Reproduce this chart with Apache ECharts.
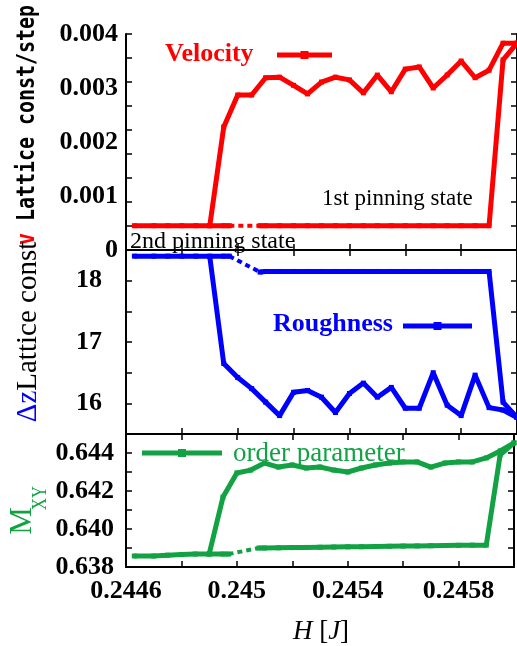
<!DOCTYPE html>
<html>
<head>
<meta charset="utf-8">
<script src="https://cdn.jsdelivr.net/npm/echarts@6/dist/echarts.min.js"></script>
<style>html,body{margin:0;padding:0;background:#fff;}#c{width:517px;height:646px;}</style>
</head>
<body>
<div id="c"></div>
<script>
// ---- data ----
// decreasing-H branch, shared H grid
const H_DOWN = [0.2449, 0.24495, 0.245, 0.24505, 0.2451, 0.24515, 0.2452, 0.24525, 0.2453, 0.24535, 0.2454, 0.24545, 0.2455, 0.24555, 0.2456, 0.24565, 0.2457, 0.24575, 0.2458, 0.24585, 0.2459, 0.24595, 0.246];
const VEL_DOWN = [0.00045, 0.00228, 0.00287, 0.00287, 0.00319, 0.0032, 0.00305, 0.00289, 0.00311, 0.0032, 0.00315, 0.00291, 0.00324, 0.00293, 0.00335, 0.00339, 0.0030, 0.00324, 0.0035, 0.00319, 0.00333, 0.00383, 0.00383];
const ROUGH_DOWN = [18.39, 16.65, 16.42, 16.24, 16.02, 15.80, 16.18, 16.21, 16.10, 15.85, 16.16, 16.33, 16.10, 16.26, 15.92, 15.92, 16.50, 15.97, 15.80, 16.46, 15.93, 15.89, 15.77];
const ORDER_DOWN = [0.63868, 0.64168, 0.64295, 0.6431, 0.64347, 0.64326, 0.64337, 0.64321, 0.64326, 0.6431, 0.643, 0.64321, 0.64337, 0.64347, 0.64353, 0.64353, 0.64326, 0.64347, 0.64353, 0.64353, 0.64374, 0.64411, 0.64453];

// 1st pinning state branch (increasing H)
const H_UP = [0.24508, 0.2451, 0.24515, 0.2452, 0.24525, 0.2453, 0.24535, 0.2454, 0.24545, 0.2455, 0.24555, 0.2456, 0.24565, 0.2457, 0.24575, 0.2458, 0.24585, 0.2459, 0.24595, 0.246];
const VEL_UP = [0.00045, 0.00045, 0.00045, 0.00045, 0.00045, 0.00045, 0.00045, 0.00045, 0.00045, 0.00045, 0.00045, 0.00045, 0.00045, 0.00045, 0.00045, 0.00045, 0.00045, 0.00045, 0.00352, 0.00383];
const ROUGH_UP = [18.14, 18.15, 18.15, 18.15, 18.15, 18.15, 18.15, 18.15, 18.15, 18.15, 18.15, 18.15, 18.15, 18.15, 18.15, 18.15, 18.15, 18.15, 16.02, 15.77];
const ORDER_UP = [0.63900, 0.63900, 0.63901, 0.63902, 0.63903, 0.63904, 0.63905, 0.63906, 0.63907, 0.63908, 0.63909, 0.6391, 0.63911, 0.63912, 0.63913, 0.63914, 0.63915, 0.63915, 0.6439, 0.64453];

// 2nd pinning state (low-H flat part)
const H_PIN2 = [0.24463, 0.2447, 0.24475, 0.2448, 0.24485, 0.2449, 0.24495, 0.24497];
const VEL_PIN2 = [0.00045, 0.00045, 0.00045, 0.00045, 0.00045, 0.00045, 0.00045, 0.00045];
const ROUGH_PIN2 = [18.40, 18.40, 18.40, 18.40, 18.40, 18.40, 18.40, 18.40];
const ORDER_PIN2 = [0.63858, 0.63858, 0.63862, 0.63866, 0.63868, 0.63868, 0.63868, 0.63868];

// dotted connection between the two pinning states
const H_LINK = [0.24497, 0.24508];
const VEL_LINK = [0.00045, 0.00045];
const ROUGH_LINK = [18.40, 18.14];
const ORDER_LINK = [0.63868, 0.63900];

// axis ticks
const X_MIN = 0.2446, X_MAX = 0.2460, X_STEP = 0.0002;

const RED = '#ff0000', BLUE = '#0000ff', GREEN = '#12a243';
const SERIF = '"Liberation Serif", "Times New Roman", serif';
const MONO = '"DejaVu Sans Mono", monospace';

function pairs(xs, ys) { return xs.map((x, i) => [x, ys[i]]); }

const chart = echarts.init(document.getElementById('c'), null, {renderer: 'canvas'});

const gridsDef = [
  {left: 126, top: 34, width: 392, height: 216},
  {left: 126, top: 250, width: 392, height: 184},
  {left: 126, top: 434, width: 392, height: 133}
];

const frameLine = {show: true, lineStyle: {color: '#000', width: 2}};
const tickIn = {show: true, inside: true, length: 6, lineStyle: {color: '#000', width: 1.5}};

function xAx(grid, pos, labels) {
  return {
    type: 'value', gridIndex: grid, position: pos, min: X_MIN, max: X_MAX, interval: X_STEP,
    axisLine: frameLine, axisTick: tickIn, splitLine: {show: false},
    axisLabel: labels ? {
      show: true, margin: 11, color: '#000', fontFamily: SERIF, fontWeight: 'bold', fontSize: 26,
      formatter: v => { const k = Math.round((v - X_MIN) / X_STEP); return k % 2 === 0 ? String(parseFloat(v.toFixed(4))) : ''; }
    } : {show: false}
  };
}

const xAxes = [xAx(0, 'bottom', false), xAx(0, 'top', false), xAx(1, 'bottom', false), xAx(1, 'top', false), xAx(2, 'bottom', true), xAx(2, 'top', false)];

const labelFont = {color: '#000', fontFamily: SERIF, fontWeight: 'bold', fontSize: 26};
const yAxes = [
  // 0: top panel labels
  {type: 'value', gridIndex: 0, position: 'left', min: 0, max: 0.004, interval: 0.001,
    axisLine: {show: false}, axisTick: {show: false}, splitLine: {show: false},
    axisLabel: Object.assign({margin: 8, formatter: v => v === 0 ? '0' : v.toFixed(3)}, labelFont)},
  // 1,2: top panel tick marks (left/right)
  {type: 'value', gridIndex: 0, position: 'left', min: 0, max: 9, interval: 1,
    axisLine: frameLine, axisTick: tickIn, splitLine: {show: false}, axisLabel: {show: false}},
  {type: 'value', gridIndex: 0, position: 'right', min: 0, max: 9, interval: 1,
    axisLine: frameLine, axisTick: tickIn, splitLine: {show: false}, axisLabel: {show: false}},
  // 3,4: middle panel
  {type: 'value', gridIndex: 1, position: 'left', min: 15.5, max: 18.5, interval: 0.5,
    axisLine: frameLine, axisTick: tickIn, splitLine: {show: false},
    axisLabel: Object.assign({margin: 24, formatter: v => Number.isInteger(v) ? String(v) : ''}, labelFont)},
  {type: 'value', gridIndex: 1, position: 'right', min: 15.5, max: 18.5, interval: 0.5,
    axisLine: frameLine, axisTick: tickIn, splitLine: {show: false}, axisLabel: {show: false}},
  // 5,6: bottom panel
  {type: 'value', gridIndex: 2, position: 'left', min: 0.638, max: 0.645, interval: 0.001,
    axisLine: frameLine, axisTick: tickIn, splitLine: {show: false},
    axisLabel: Object.assign({margin: 12, formatter: v => { const k = Math.round((v - 0.638) / 0.001); return k % 2 === 0 ? v.toFixed(3) : ''; }}, labelFont)},
  {type: 'value', gridIndex: 2, position: 'right', min: 0.638, max: 0.645, interval: 0.001,
    axisLine: frameLine, axisTick: tickIn, splitLine: {show: false}, axisLabel: {show: false}}
];

function solid(name, color, xi, yi, data) {
  return {name, type: 'line', xAxisIndex: xi, yAxisIndex: yi, data, color,
    symbol: 'rect', symbolSize: 5, showSymbol: true,
    lineStyle: {color, width: 5}, itemStyle: {color}, z: 3};
}
function dotted(name, color, xi, yi, data) {
  return {name, type: 'line', xAxisIndex: xi, yAxisIndex: yi, data, color,
    symbol: 'none', lineStyle: {color, width: 4, type: [5, 4]}, z: 3};
}

const series = [
  solid('v-pin2', RED, 0, 0, pairs(H_PIN2, VEL_PIN2)),
  dotted('v-link', RED, 0, 0, pairs(H_LINK, VEL_LINK)),
  solid('v-up', RED, 0, 0, pairs(H_UP, VEL_UP)),
  solid('Velocity', RED, 0, 0, pairs(H_DOWN, VEL_DOWN)),
  solid('r-pin2', BLUE, 2, 3, pairs(H_PIN2, ROUGH_PIN2)),
  dotted('r-link', BLUE, 2, 3, pairs(H_LINK, ROUGH_LINK)),
  solid('r-up', BLUE, 2, 3, pairs(H_UP, ROUGH_UP)),
  solid('Roughness', BLUE, 2, 3, pairs(H_DOWN, ROUGH_DOWN)),
  solid('o-pin2', GREEN, 4, 5, pairs(H_PIN2, ORDER_PIN2)),
  dotted('o-link', GREEN, 4, 5, pairs(H_LINK, ORDER_LINK)),
  solid('o-up', GREEN, 4, 5, pairs(H_UP, ORDER_UP)),
  solid('order parameter', GREEN, 4, 5, pairs(H_DOWN, ORDER_DOWN))
];

function keyLine(x1, x2, y, color) {
  return [
    {type: 'line', shape: {x1, y1: y, x2, y2: y}, style: {stroke: color, lineWidth: 5}, z: 10},
    {type: 'rect', shape: {x: (x1 + x2) / 2 - 4, y: y - 4, width: 8, height: 8}, style: {fill: color}, z: 10}
  ];
}

const graphic = [
  // y-axis titles
  {type: 'text', x: 28, y: 125, rotation: Math.PI / 2, scaleX: 0.83, z: 10,
    style: {text: '{r|v} {k|Lattice const/step}', align: 'center', verticalAlign: 'middle', font: 'bold 24px ' + MONO,
      rich: {r: {fill: RED, font: 'bold 24px ' + MONO}, k: {fill: '#000', font: 'bold 24px ' + MONO}}}},
  {type: 'text', x: 28, y: 332, rotation: Math.PI / 2, z: 10,
    style: {text: '{b|Δz}{k|Lattice const}', align: 'center', verticalAlign: 'middle', font: '29px ' + SERIF,
      rich: {b: {fill: BLUE, font: '29px ' + SERIF}, k: {fill: '#000', font: '29px ' + SERIF}}}},
  {type: 'text', x: 23, y: 521, rotation: Math.PI / 2, z: 10,
    style: {text: 'M', align: 'center', verticalAlign: 'middle', font: '31px ' + SERIF, fill: GREEN}},
  {type: 'text', x: 40, y: 498, rotation: Math.PI / 2, scaleX: 0.75, z: 10,
    style: {text: 'XY', align: 'center', verticalAlign: 'middle', font: '22px ' + SERIF, fill: GREEN}},
  // x-axis title
  {type: 'text', x: 321, y: 632, z: 10,
    style: {text: '{i|H} [{i|J}]', align: 'center', verticalAlign: 'middle', font: '27px ' + SERIF, fill: '#000',
      rich: {i: {font: 'italic 27px ' + SERIF, fill: '#000'}}}},
  // legend texts
  {type: 'text', x: 165, y: 54, z: 10,
    style: {text: 'Velocity', align: 'left', verticalAlign: 'middle', font: 'bold 26px ' + SERIF, fill: RED}},
  {type: 'text', x: 273, y: 324, z: 10,
    style: {text: 'Roughness', align: 'left', verticalAlign: 'middle', font: 'bold 26px ' + SERIF, fill: BLUE}},
  {type: 'text', x: 233, y: 454, z: 10,
    style: {text: 'order parameter', align: 'left', verticalAlign: 'middle', font: '27px ' + SERIF, fill: GREEN}},
  // annotations
  {type: 'text', x: 322, y: 199, z: 10,
    style: {text: '1st pinning state', align: 'left', verticalAlign: 'middle', font: '23px ' + SERIF, fill: '#000'}},
  {type: 'text', x: 130, y: 242, z: 10,
    style: {text: '2nd pinning state', align: 'left', verticalAlign: 'middle', font: '24px ' + SERIF, fill: '#000'}}
].concat(keyLine(277, 332, 55, RED), keyLine(403, 472, 326, BLUE), keyLine(142, 222, 453, GREEN));

chart.setOption({
  animation: false,
  backgroundColor: '#fff',
  grid: gridsDef,
  xAxis: xAxes,
  yAxis: yAxes,
  series,
  graphic
});
</script>
</body>
</html>
